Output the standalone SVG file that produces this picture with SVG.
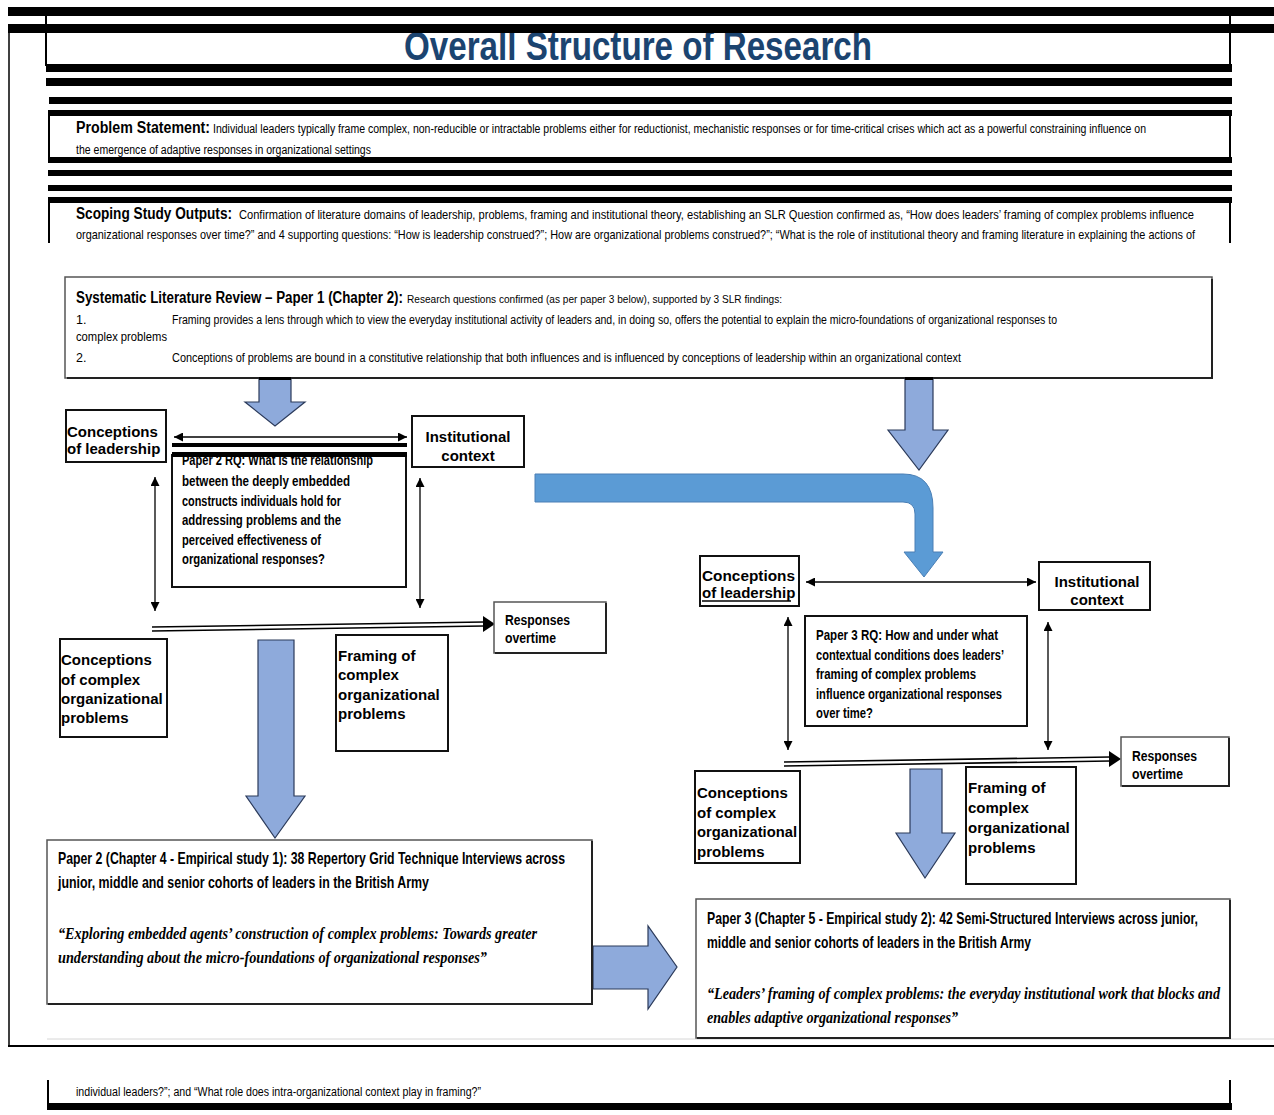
<svg xmlns="http://www.w3.org/2000/svg" width="1274" height="1115" viewBox="0 0 1274 1115">
  <style>
    .bar { fill: #000; }
    .frame { stroke: #000; stroke-width: 2; fill: none; }
    .box { fill: #fff; stroke: #111; stroke-width: 2; }
    .sbox { fill: #fff; stroke: #555; stroke-width: 1.5; }
    .shadow { fill: none; stroke: #222; stroke-width: 2; }
    .lbl { font-family: "Liberation Sans", Arial, sans-serif; font-weight: bold; font-size: 15px; fill: #000; }
    .nar { font-family: "Liberation Sans Narrow", "Liberation Sans", Arial, sans-serif; fill: #000; }
    .b { font-weight: bold; }
    .ital { font-family: "Liberation Serif", "Times New Roman", serif; font-style: italic; font-weight: bold; font-size: 17px; fill: #000; }
    .title { font-family: "Liberation Sans Narrow", "Liberation Sans", Arial, sans-serif; font-weight: bold; font-size: 40px; fill: #1b4470; }
    .conn { stroke: #000; stroke-width: 1.3; fill: none; }
    .dbl { stroke: #000; stroke-width: 1.6; fill: none; }
    .blk { fill: #8eaadb; stroke: #2b3a5a; stroke-width: 1.2; }
    .blk2 { fill: #5b9bd5; stroke: #4a7fb5; stroke-width: 1; }
  </style>
  <defs>
    <marker id="ah" viewBox="0 0 10 10" refX="10" refY="5" markerWidth="9" markerHeight="9" markerUnits="userSpaceOnUse" orient="auto-start-reverse">
      <path d="M0,0 L10,5 L0,10 Z" fill="#000"/>
    </marker>
  </defs>

  <rect width="1274" height="1115" fill="#fff"/>

  <!-- page frame and heading bars -->
  <g id="page-frame">
    <line x1="9" y1="24" x2="9" y2="1047" stroke="#000" stroke-width="1.5"/>
    <line x1="8" y1="1046" x2="1274" y2="1046" stroke="#000" stroke-width="2"/>
    <line x1="47" y1="1039" x2="1274" y2="1039" stroke="#d6d6d6" stroke-width="1"/>
    <line x1="46" y1="7" x2="46" y2="66" class="frame"/>
    <line x1="1230" y1="7" x2="1230" y2="66" class="frame"/>
  </g>

  <g id="title">
    <text class="title" x="638" y="60" text-anchor="middle" textLength="468" lengthAdjust="spacingAndGlyphs">Overall Structure of Research</text>
  </g>

  <g id="bars">
    <rect class="bar" x="8" y="7" width="1266" height="9"/>
    <rect class="bar" x="8" y="24" width="1266" height="9"/>
    <rect class="bar" x="46" y="64" width="1186" height="8"/>
    <rect class="bar" x="46" y="78" width="1186" height="8"/>
    <rect class="bar" x="49" y="97" width="1183" height="7"/>
    <rect class="bar" x="48" y="170" width="1184" height="6"/>
    <rect class="bar" x="48" y="185" width="1184" height="6"/>
  </g>

  <!-- problem statement -->
  <g id="problem-statement">
    <rect class="bar" x="48" y="110" width="1184" height="6"/>
    <rect class="bar" x="48" y="157" width="1184" height="6"/>
    <line x1="49" y1="110" x2="49" y2="163" class="frame"/>
    <line x1="1230" y1="110" x2="1230" y2="163" class="frame"/>
    <text class="nar b" x="76" y="133" font-size="16" textLength="134" lengthAdjust="spacingAndGlyphs">Problem Statement:</text>
    <text class="nar" x="213" y="133" font-size="12" textLength="933" lengthAdjust="spacingAndGlyphs">Individual leaders typically frame complex, non-reducible or intractable problems either for reductionist, mechanistic responses or for time-critical crises which act as a powerful constraining influence on</text>
    <text class="nar" x="76" y="154" font-size="12" textLength="295" lengthAdjust="spacingAndGlyphs">the emergence of adaptive responses in organizational settings</text>
  </g>

  <!-- scoping study -->
  <g id="scoping-study">
    <rect class="bar" x="48" y="197" width="1184" height="6"/>
    <line x1="49" y1="197" x2="49" y2="243" class="frame"/>
    <line x1="1230" y1="197" x2="1230" y2="243" class="frame"/>
    <text class="nar b" x="76" y="219" font-size="16" textLength="156" lengthAdjust="spacingAndGlyphs">Scoping Study Outputs:</text>
    <text class="nar" x="239" y="219" font-size="13" textLength="955" lengthAdjust="spacingAndGlyphs">Confirmation of literature domains of leadership, problems, framing and institutional theory, establishing an SLR Question confirmed as, “How does leaders’ framing of complex problems influence</text>
    <text class="nar" x="76" y="239" font-size="13" textLength="1119" lengthAdjust="spacingAndGlyphs">organizational responses over time?” and 4 supporting questions: “How is leadership construed?”; How are organizational problems construed?”; “What is the role of institutional theory and framing literature in explaining the actions of</text>
  </g>

  <!-- scoping study, continued at page foot -->
  <g id="scoping-study-cont">
    <line x1="48" y1="1080" x2="48" y2="1108" class="frame"/>
    <line x1="1230" y1="1080" x2="1230" y2="1108" class="frame"/>
    <rect class="bar" x="47" y="1103" width="1185" height="7"/>
    <text class="nar" x="76" y="1096" font-size="12.5" textLength="405" lengthAdjust="spacingAndGlyphs">individual leaders?”; and “What role does intra-organizational context play in framing?”</text>
  </g>

  <!-- systematic literature review -->
  <g id="slr">
    <rect class="sbox" x="65" y="277" width="1147" height="101"/>
    <polyline class="shadow" points="1212,279 1212,378 67,378"/>
    <text class="nar b" x="76" y="303" font-size="16" textLength="327" lengthAdjust="spacingAndGlyphs">Systematic Literature Review – Paper 1 (Chapter 2):</text>
    <text class="nar" x="407" y="303" font-size="11.5" textLength="375" lengthAdjust="spacingAndGlyphs">Research questions confirmed (as per paper 3 below), supported by 3 SLR findings:</text>
    <text class="nar" x="76" y="324" font-size="12.5">1.</text>
    <text class="nar" x="172" y="324" font-size="12.5" textLength="885" lengthAdjust="spacingAndGlyphs">Framing provides a lens through which to view the everyday institutional activity of leaders and, in doing so, offers the potential to explain the micro-foundations of organizational responses to</text>
    <text class="nar" x="76" y="341" font-size="12.5" textLength="91" lengthAdjust="spacingAndGlyphs">complex problems</text>
    <text class="nar" x="76" y="362" font-size="12.5">2.</text>
    <text class="nar" x="172" y="362" font-size="12.5" textLength="789" lengthAdjust="spacingAndGlyphs">Conceptions of problems are bound in a constitutive relationship that both influences and is influenced by conceptions of leadership within an organizational context</text>
  </g>

  <!-- block arrows -->
  <g id="flow-arrows">
    <path class="blk" d="M259,379 H291 V402 H305 L275,426 L245,402 H259 Z"/>
    <rect class="bar" x="259" y="377" width="32" height="3"/>
    <path class="blk" d="M905,379 H933 V430 H948 L919,470 L888,430 H905 Z"/>
    <rect class="bar" x="905" y="377" width="28" height="3"/>
    <path class="blk2" d="M535,474 H903 Q933,474 933,508 V552 H943 L924,577 L904,552 H915 V514 Q915,502 903,502 H535 Z"/>
    <path class="blk" d="M258,640 H294 V796 H305 L275,838 L246,796 H258 Z"/>
    <path class="blk" d="M910,769 H942 V833 H955 L925,878 L896,833 H910 Z"/>
    <path class="blk" d="M593,946 H648 V926 L677,967 L648,1009 V989 H593 Z"/>
  </g>

  <!-- framework connectors -->
  <g id="connectors">
    <line class="conn" x1="174" y1="437" x2="407" y2="437" marker-start="url(#ah)" marker-end="url(#ah)"/>
    <line class="conn" x1="155" y1="477" x2="155" y2="611" marker-start="url(#ah)" marker-end="url(#ah)"/>
    <line class="conn" x1="420" y1="478" x2="420" y2="608" marker-start="url(#ah)" marker-end="url(#ah)"/>
    <line class="dbl" x1="152" y1="627" x2="484" y2="622"/>
    <line class="dbl" x1="152" y1="631" x2="484" y2="626"/>
    <path d="M483,616 L495,624 L483,632 Z" fill="#000"/>

    <line class="conn" x1="806" y1="582" x2="1036" y2="582" marker-start="url(#ah)" marker-end="url(#ah)"/>
    <line class="conn" x1="788" y1="617" x2="788" y2="750" marker-start="url(#ah)" marker-end="url(#ah)"/>
    <line class="conn" x1="1048" y1="622" x2="1048" y2="750" marker-start="url(#ah)" marker-end="url(#ah)"/>
    <line class="dbl" x1="784" y1="762" x2="1110" y2="757"/>
    <line class="dbl" x1="784" y1="766" x2="1110" y2="761"/>
    <path d="M1109,751 L1121,759 L1109,767 Z" fill="#000"/>
  </g>

  <!-- paper 2 framework nodes -->
  <g id="p2-leadership">
    <rect class="box" x="66" y="410" width="100" height="52"/>
    <text class="lbl" x="67" y="437">Conceptions</text>
    <text class="lbl" x="67" y="454">of leadership</text>
  </g>
  <g id="p2-institutional">
    <rect class="box" x="412" y="416" width="112" height="51"/>
    <text class="lbl" x="468" y="442" text-anchor="middle">Institutional</text>
    <text class="lbl" x="468" y="461" text-anchor="middle">context</text>
  </g>
  <g id="p2-rq">
    <rect class="box" x="172" y="455" width="234" height="132"/>
    <text class="nar b" font-size="15.5" x="182" y="465" textLength="191" lengthAdjust="spacingAndGlyphs">Paper 2 RQ: What is the relationship</text>
    <text class="nar b" font-size="15.5" x="182" y="486" textLength="168" lengthAdjust="spacingAndGlyphs">between the deeply embedded</text>
    <text class="nar b" font-size="15.5" x="182" y="506" textLength="159" lengthAdjust="spacingAndGlyphs">constructs individuals hold for</text>
    <text class="nar b" font-size="15.5" x="182" y="525" textLength="159" lengthAdjust="spacingAndGlyphs">addressing problems and the</text>
    <text class="nar b" font-size="15.5" x="182" y="545" textLength="139" lengthAdjust="spacingAndGlyphs">perceived effectiveness of</text>
    <text class="nar b" font-size="15.5" x="182" y="564" textLength="143" lengthAdjust="spacingAndGlyphs">organizational responses?</text>
    <rect class="bar" x="172" y="443" width="235" height="4"/>
    <rect class="bar" x="172" y="452" width="235" height="5"/>
  </g>
  <g id="p2-responses">
    <rect class="sbox" x="494" y="602" width="112" height="51"/>
    <polyline class="shadow" points="606,603 606,653 495,653"/>
    <text class="nar b" font-size="14.5" x="505" y="625" textLength="65" lengthAdjust="spacingAndGlyphs">Responses</text>
    <text class="nar b" font-size="14.5" x="505" y="643" textLength="51" lengthAdjust="spacingAndGlyphs">overtime</text>
  </g>
  <g id="p2-problems">
    <rect class="box" x="60" y="639" width="107" height="98"/>
    <text class="lbl" x="61" y="665">Conceptions</text>
    <text class="lbl" x="61" y="685">of complex</text>
    <text class="lbl" x="61" y="704">organizational</text>
    <text class="lbl" x="61" y="723">problems</text>
  </g>
  <g id="p2-framing">
    <rect class="box" x="336" y="635" width="112" height="116"/>
    <text class="lbl" x="338" y="661">Framing of</text>
    <text class="lbl" x="338" y="680">complex</text>
    <text class="lbl" x="338" y="700">organizational</text>
    <text class="lbl" x="338" y="719">problems</text>
  </g>

  <!-- paper 3 framework nodes -->
  <g id="p3-leadership">
    <rect class="box" x="700" y="556" width="99" height="50"/>
    <text class="lbl" x="702" y="581" textLength="93" lengthAdjust="spacingAndGlyphs">Conceptions</text>
    <text class="lbl" x="702" y="598">of leadership</text>
    <line x1="702" y1="601" x2="791" y2="601" stroke="#000" stroke-width="1.5"/>
  </g>
  <g id="p3-institutional">
    <rect class="box" x="1039" y="562" width="111" height="48"/>
    <text class="lbl" x="1097" y="587" text-anchor="middle">Institutional</text>
    <text class="lbl" x="1097" y="605" text-anchor="middle">context</text>
  </g>
  <g id="p3-rq">
    <rect class="box" x="805" y="616" width="222" height="110"/>
    <text class="nar b" font-size="15.5" x="816" y="640" textLength="182" lengthAdjust="spacingAndGlyphs">Paper 3 RQ: How and under what</text>
    <text class="nar b" font-size="15.5" x="816" y="660" textLength="188" lengthAdjust="spacingAndGlyphs">contextual conditions does leaders’</text>
    <text class="nar b" font-size="15.5" x="816" y="679" textLength="160" lengthAdjust="spacingAndGlyphs">framing of complex problems</text>
    <text class="nar b" font-size="15.5" x="816" y="699" textLength="186" lengthAdjust="spacingAndGlyphs">influence organizational responses</text>
    <text class="nar b" font-size="15.5" x="816" y="718" textLength="57" lengthAdjust="spacingAndGlyphs">over time?</text>
  </g>
  <g id="p3-responses">
    <rect class="sbox" x="1121" y="737" width="108" height="49"/>
    <polyline class="shadow" points="1229,738 1229,786 1122,786"/>
    <text class="nar b" font-size="14.5" x="1132" y="761" textLength="65" lengthAdjust="spacingAndGlyphs">Responses</text>
    <text class="nar b" font-size="14.5" x="1132" y="779" textLength="51" lengthAdjust="spacingAndGlyphs">overtime</text>
  </g>
  <g id="p3-problems">
    <rect class="box" x="695" y="771" width="105" height="92"/>
    <text class="lbl" x="697" y="798">Conceptions</text>
    <text class="lbl" x="697" y="818">of complex</text>
    <text class="lbl" x="697" y="837" textLength="100" lengthAdjust="spacingAndGlyphs">organizational</text>
    <text class="lbl" x="697" y="857">problems</text>
  </g>
  <g id="p3-framing">
    <rect class="box" x="966" y="767" width="110" height="117"/>
    <text class="lbl" x="968" y="793">Framing of</text>
    <text class="lbl" x="968" y="813">complex</text>
    <text class="lbl" x="968" y="833">organizational</text>
    <text class="lbl" x="968" y="853">problems</text>
  </g>

  <!-- empirical papers -->
  <g id="paper-2">
    <rect class="sbox" x="47" y="840" width="545" height="164"/>
    <polyline class="shadow" points="592,841 592,1004 48,1004"/>
    <text class="nar b" font-size="17" x="58" y="864" textLength="507" lengthAdjust="spacingAndGlyphs">Paper 2 (Chapter 4 - Empirical study 1): 38 Repertory Grid Technique Interviews across</text>
    <text class="nar b" font-size="17" x="58" y="888" textLength="371" lengthAdjust="spacingAndGlyphs">junior, middle and senior cohorts of leaders in the British Army</text>
    <text class="ital" x="58" y="939" textLength="479" lengthAdjust="spacingAndGlyphs">“Exploring embedded agents’ construction of complex problems: Towards greater</text>
    <text class="ital" x="58" y="963" textLength="429" lengthAdjust="spacingAndGlyphs">understanding about the micro-foundations of organizational responses”</text>
  </g>
  <g id="paper-3">
    <rect class="sbox" x="696" y="899" width="534" height="139"/>
    <polyline class="shadow" points="1230,900 1230,1038 697,1038"/>
    <text class="nar b" font-size="17" x="707" y="924" textLength="491" lengthAdjust="spacingAndGlyphs">Paper 3 (Chapter 5 - Empirical study 2): 42 Semi-Structured Interviews across junior,</text>
    <text class="nar b" font-size="17" x="707" y="948" textLength="324" lengthAdjust="spacingAndGlyphs">middle and senior cohorts of leaders in the British Army</text>
    <text class="ital" x="707" y="999" textLength="513" lengthAdjust="spacingAndGlyphs">“Leaders’ framing of complex problems: the everyday institutional work that blocks and</text>
    <text class="ital" x="707" y="1023" textLength="251" lengthAdjust="spacingAndGlyphs">enables adaptive organizational responses”</text>
  </g>
</svg>
